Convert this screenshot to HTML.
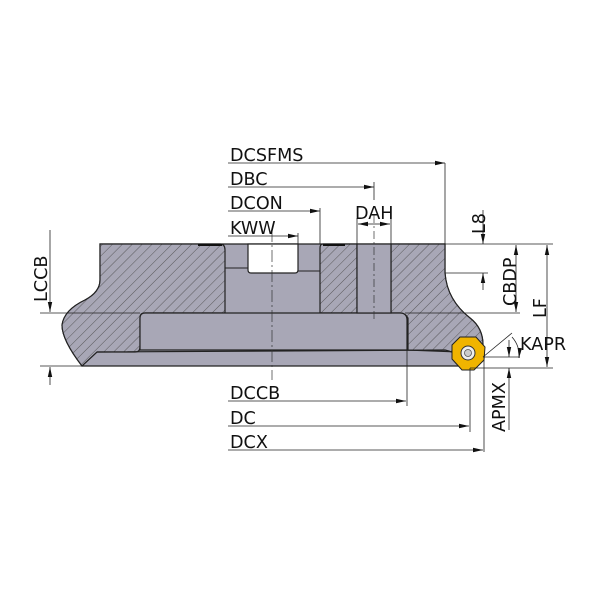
<!DOCTYPE html>
<html><head><style>
html,body{margin:0;padding:0;background:#fff;}
svg{display:block;}
text{font-family:"DejaVu Sans","Liberation Sans",sans-serif;font-size:17.6px;fill:#111;}
</style></head><body>
<svg width="600" height="600" viewBox="0 0 600 600" xmlns="http://www.w3.org/2000/svg">
<defs>
<pattern id="h" patternUnits="userSpaceOnUse" width="7" height="7" patternTransform="rotate(45)">
<rect width="7" height="7" fill="#a8a7b6"/>
<line x1="0" y1="0" x2="0" y2="7" stroke="#444" stroke-width="0.8"/>
</pattern>
<marker id="a" markerWidth="10" markerHeight="6" refX="10" refY="3" orient="auto" markerUnits="userSpaceOnUse">
<path d="M0,0.8 L10,3 L0,5.2z" fill="#111"/>
</marker>
</defs>
<path d="M100,244 L445,244 L445,273 Q447,300 470,318 Q483,328 483,345 L470,360 L460,366 L82,366 Q62,340 62,325 Q64,310 85,300 Q100,292 100,280 Z" fill="#a8a7b6" stroke="#222" stroke-width="1.2"/>
<path d="M100,244 L220,244 Q225,244 225,250 L225,313 L145,313 Q140,313 140,318 L140,347 Q140,352 135,352 L97,352 L82,366 Q62,340 62,325 Q64,310 85,300 Q100,292 100,280 Z" fill="url(#h)" stroke="#222" stroke-width="1.2"/>
<path d="M323,244 L357,244 L357,313 L320,313 L320,248 Q320,244 323,244Z" fill="url(#h)" stroke="#222" stroke-width="1.2"/>
<path d="M391,244 L445,244 L445,273 Q447,300 470,318 Q483,328 483,345 L465,352 L460,352 L408,350 L408,318 Q405,313 400,313 L391,313 Z" fill="url(#h)" stroke="#222" stroke-width="1.2"/>
<path d="M140,318 Q140,313 145,313 L400,313 Q407,313 407,320 L407,350 L140,350 Z" fill="#a8a7b6" stroke="#222" stroke-width="1.2"/>
<path d="M97,352 L445,350 Q455,352 460,358" fill="none" stroke="#222" stroke-width="1.2"/>
<rect x="357" y="244" width="34" height="69" fill="#a8a7b6" stroke="#222" stroke-width="1.2"/>
<path d="M248,244 L248,270 Q248,273 251,273 L295,273 Q298,273 298,270 L298,244 Z" fill="#fff" stroke="#222" stroke-width="1.2"/>
<line x1="225" y1="268" x2="248" y2="268" stroke="#222" stroke-width="1"/>
<line x1="298" y1="271" x2="320" y2="271" stroke="#222" stroke-width="1"/>
<line x1="198" y1="245" x2="222" y2="245" stroke="#111" stroke-width="2"/>
<line x1="323" y1="245" x2="345" y2="245" stroke="#111" stroke-width="2"/>
<line x1="272" y1="230" x2="272" y2="380" stroke="#333" stroke-width="0.7" stroke-dasharray="12,3,2,3"/>
<line x1="374" y1="215" x2="374" y2="320" stroke="#333" stroke-width="0.7" stroke-dasharray="8,3,2,3"/>
<path d="M460,337 L476,337 L485,347 L484,360 L474,370 L462,370 L452,359 L452,345 Z" fill="#f0b400" stroke="#222" stroke-width="1"/>
<circle cx="468" cy="353" r="7" fill="#eee" stroke="#333" stroke-width="1"/>
<circle cx="468" cy="353" r="3.5" fill="#ccc" stroke="#555" stroke-width="0.8"/>
<g stroke="#222" stroke-width="0.8" fill="none">
<line x1="228" y1="163" x2="445" y2="163" marker-end="url(#a)"/>
<line x1="445" y1="163" x2="445" y2="244"/>
<line x1="228" y1="187" x2="374" y2="187" marker-end="url(#a)"/>
<line x1="374" y1="182" x2="374" y2="200"/>
<line x1="228" y1="211" x2="320" y2="211" marker-end="url(#a)"/>
<line x1="320" y1="208" x2="320" y2="244"/>
<line x1="228" y1="236" x2="298" y2="236" marker-end="url(#a)"/>
<line x1="298" y1="233" x2="298" y2="244"/>
<line x1="357" y1="218" x2="357" y2="244"/>
<line x1="391" y1="218" x2="391" y2="244"/>
<line x1="374" y1="224" x2="358" y2="224" marker-end="url(#a)"/>
<line x1="374" y1="224" x2="390" y2="224" marker-end="url(#a)"/>
<line x1="445" y1="244" x2="553" y2="244"/>
<line x1="445" y1="273" x2="488" y2="273"/>
<line x1="405" y1="313" x2="520" y2="313"/>
<line x1="483" y1="357" x2="520" y2="357"/>
<line x1="470" y1="368" x2="553" y2="368"/>
<line x1="483" y1="210" x2="483" y2="244" marker-end="url(#a)"/>
<line x1="483" y1="290" x2="483" y2="273" marker-end="url(#a)"/>
<line x1="516" y1="278" x2="516" y2="245" marker-end="url(#a)"/>
<line x1="516" y1="278" x2="516" y2="312" marker-end="url(#a)"/>
<line x1="547" y1="305" x2="547" y2="245" marker-end="url(#a)"/>
<line x1="547" y1="305" x2="547" y2="367" marker-end="url(#a)"/>
<line x1="509" y1="340" x2="509" y2="357" marker-end="url(#a)"/>
<line x1="509" y1="430" x2="509" y2="368" marker-end="url(#a)"/>
<line x1="483" y1="357" x2="512" y2="333"/>
<path d="M512,337 Q520,346 519,358" marker-end="url(#a)"/>
<line x1="40" y1="313" x2="140" y2="313"/>
<line x1="40" y1="366" x2="82" y2="366"/>
<line x1="50" y1="230" x2="50" y2="312" marker-end="url(#a)"/>
<line x1="50" y1="385" x2="50" y2="367" marker-end="url(#a)"/>
<line x1="228" y1="401" x2="406" y2="401" marker-end="url(#a)"/>
<line x1="407" y1="350" x2="407" y2="406"/>
<line x1="228" y1="426" x2="469" y2="426" marker-end="url(#a)"/>
<line x1="470" y1="368" x2="470" y2="432"/>
<line x1="228" y1="450" x2="483" y2="450" marker-end="url(#a)"/>
<line x1="484" y1="360" x2="484" y2="452"/>
</g>
<text x="230" y="161">DCSFMS</text>
<text x="230" y="185">DBC</text>
<text x="230" y="209">DCON</text>
<text x="230" y="234">KWW</text>
<text x="355" y="219">DAH</text>
<text x="520" y="350">KAPR</text>
<text x="230" y="399">DCCB</text>
<text x="230" y="424">DC</text>
<text x="230" y="448">DCX</text>
<text transform="translate(485,234) rotate(-90)">L8</text>
<text transform="translate(516,306) rotate(-90)">CBDP</text>
<text transform="translate(546,318) rotate(-90)">LF</text>
<text transform="translate(505,432) rotate(-90)">APMX</text>
<text transform="translate(47,302) rotate(-90)">LCCB</text>
</svg>
</body></html>
